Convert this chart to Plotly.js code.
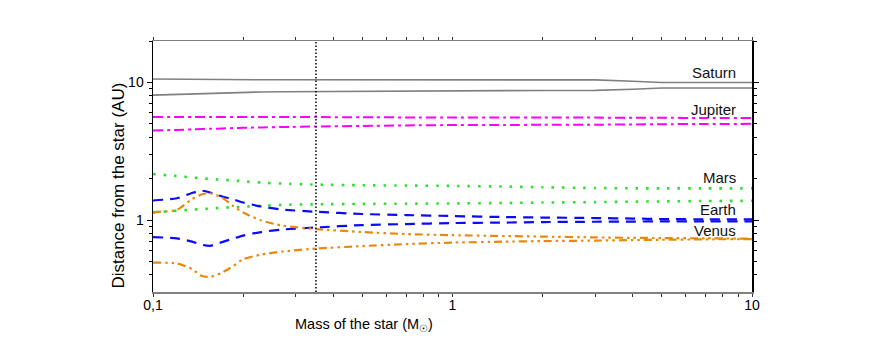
<!DOCTYPE html>
<html>
<head>
<meta charset="utf-8">
<script src="https://cdn.plot.ly/plotly-3.0.1.min.js"></script>
<style>html,body{margin:0;padding:0;background:#fff;}#chart{width:873px;height:350px;}</style>
</head>
<body>
<div id="chart"></div>
<script>
// Stellar mass grid (solar masses)
const masses = [0.1, 0.12, 0.135, 0.145, 0.155, 0.17, 0.185, 0.2, 0.23, 0.27, 0.35, 0.5, 0.7, 1, 1.5, 2, 3, 4, 5, 7, 10];

// Distances (AU): outer and inner boundaries for each planet
const saturnOuter  = [10.6, 10.55, 10.5, 10.48, 10.46, 10.45, 10.45, 10.45, 10.45, 10.45, 10.45, 10.45, 10.45, 10.45, 10.45, 10.45, 10.43, 10.2, 10.0, 10.0, 10.0];
const saturnInner  = [8.09, 8.2, 8.3, 8.34, 8.37, 8.42, 8.46, 8.49, 8.53, 8.56, 8.6, 8.64, 8.67, 8.7, 8.72, 8.73, 8.75, 8.92, 9.1, 9.1, 9.1];
const jupiterOuter = [5.60, 5.60, 5.60, 5.60, 5.60, 5.60, 5.60, 5.60, 5.60, 5.60, 5.60, 5.58, 5.57, 5.56, 5.56, 5.56, 5.55, 5.54, 5.53, 5.52, 5.51];
const jupiterInner = [4.47, 4.52, 4.56, 4.58, 4.60, 4.63, 4.66, 4.68, 4.71, 4.74, 4.78, 4.83, 4.87, 4.90, 4.91, 4.92, 4.93, 4.95, 4.97, 4.99, 5.00];
const marsOuter    = [2.16, 2.09, 2.04, 2.01, 1.99, 1.96, 1.94, 1.91, 1.87, 1.84, 1.81, 1.79, 1.78, 1.77, 1.75, 1.73, 1.71, 1.70, 1.70, 1.70, 1.70];
const marsInner    = [1.13, 1.17, 1.19, 1.20, 1.21, 1.23, 1.24, 1.25, 1.27, 1.29, 1.30, 1.31, 1.315, 1.32, 1.33, 1.34, 1.35, 1.36, 1.365, 1.375, 1.38];
const earthOuter   = [1.387, 1.439, 1.573, 1.635, 1.586, 1.483, 1.415, 1.341, 1.254, 1.192, 1.149, 1.106, 1.087, 1.069, 1.051, 1.043, 1.034, 1.025, 1.017, 1.012, 1.012];
const earthInner   = [0.752, 0.736, 0.697, 0.663, 0.650, 0.691, 0.733, 0.771, 0.818, 0.853, 0.882, 0.920, 0.935, 0.951, 0.959, 0.967, 0.972, 0.975, 0.978, 0.978, 0.978];
const venusOuter   = [1.144, 1.183, 1.422, 1.534, 1.565, 1.458, 1.265, 1.134, 0.992, 0.912, 0.860, 0.818, 0.791, 0.777, 0.765, 0.758, 0.748, 0.742, 0.740, 0.736, 0.733];
const venusInner   = [0.490, 0.484, 0.440, 0.394, 0.386, 0.415, 0.462, 0.520, 0.561, 0.590, 0.620, 0.647, 0.669, 0.686, 0.697, 0.703, 0.709, 0.715, 0.719, 0.724, 0.727];

// Vertical marker
const markerMass = [0.35, 0.35];
const yLimits = [0.3, 20];
const xLimits = [0.1, 10];

// Tick labels
const xTickVals = [0.1, 1, 10];
const xTickText = ['0,1', '1', '10'];
const yTickVals = [1, 10];
const yTickText = ['1', '10'];
const xMinor = [0.2,0.3,0.4,0.5,0.6,0.7,0.8,0.9,2,3,4,5,6,7,8,9];
const yMinor = [0.4,0.5,0.6,0.7,0.8,0.9,2,3,4,5,6,7,8,9,20];

const planetLabels = ['Saturn', 'Jupiter', 'Mars', 'Earth', 'Venus'];
const xTitle = 'Mass of the star (M<sub>☉</sub>)';
const yTitle = 'Distance from the star (AU)';

const styles = {
  Saturn:  {color: '#808080', width: 1.6, dash: 'solid', shape: 'linear'},
  Jupiter: {color: '#ff00ff', width: 2, dash: '10px,4px,3px,4px', shape: 'spline'},
  Mars:    {color: '#2ee02e', width: 2.6, dash: '2.5px,8px', shape: 'spline'},
  Earth:   {color: '#0a0aff', width: 2.2, dash: '10px,7px', shape: 'spline'},
  Venus:   {color: '#e8890c', width: 2.2, dash: '8px,4px,2.5px,4px,2.5px,4px', shape: 'spline'}
};

function tr(y, name) {
  const s = styles[name];
  return {x: masses, y: y, type: 'scatter', mode: 'lines', name: name, hoverinfo: 'skip',
    line: {color: s.color, width: s.width, dash: s.dash, shape: s.shape, smoothing: 0.6}};
}

const data = [
  tr(saturnOuter, 'Saturn'), tr(saturnInner, 'Saturn'),
  tr(jupiterOuter, 'Jupiter'), tr(jupiterInner, 'Jupiter'),
  tr(marsOuter, 'Mars'), tr(marsInner, 'Mars'),
  tr(earthOuter, 'Earth'), tr(earthInner, 'Earth'),
  tr(venusOuter, 'Venus'), tr(venusInner, 'Venus'),
  {x: markerMass, y: yLimits, type: 'scatter', mode: 'lines', hoverinfo: 'skip',
   line: {color: '#000', width: 1.5, dash: '1.5px,2px'}}
];

const fam = 'Liberation Sans, Arial, sans-serif';
const labelY = [0.874, 0.729, 0.458, 0.3275, 0.245];
const annotations = planetLabels.map((t, i) => ({
  text: t, xref: 'paper', yref: 'paper', x: 0.977, y: labelY[i],
  xanchor: 'right', yanchor: 'middle', showarrow: false,
  font: {family: fam, size: 15, color: '#111'}
}));
// axis titles (placed as in the reference, off-centre)
annotations.push({
  text: xTitle, xref: 'paper', yref: 'paper', x: 0.353, y: -0.13,
  xanchor: 'center', yanchor: 'middle', showarrow: false,
  font: {family: fam, size: 14.5, color: '#000'}
});
annotations.push({
  text: yTitle, xref: 'paper', yref: 'paper', x: -0.058, y: 0.425,
  xanchor: 'center', yanchor: 'middle', showarrow: false, textangle: -90,
  font: {family: fam, size: 17, color: '#000'}
});

const layout = {
  width: 873, height: 350,
  margin: {l: 153, r: 121, t: 41, b: 58},
  paper_bgcolor: '#fff', plot_bgcolor: '#fff',
  showlegend: false,
  font: {family: fam, color: '#000'},
  xaxis: {
    type: 'log', range: [Math.log10(xLimits[0]), Math.log10(xLimits[1])],
    tickmode: 'array', tickvals: xTickVals, ticktext: xTickText,
    ticks: 'outside', ticklen: 3, tickwidth: 1, tickcolor: '#333',
    ticklabelstandoff: -3,
    showline: true, linecolor: '#808080', linewidth: 1.5, mirror: 'ticks',
    showgrid: false, zeroline: false,
    minor: {tickmode: 'array', tickvals: xMinor, ticks: 'outside', ticklen: 3, tickcolor: '#333', showgrid: false},
    tickfont: {size: 14, family: fam, color: '#000'}
  },
  yaxis: {
    type: 'log', range: [Math.log10(yLimits[0]), Math.log10(yLimits[1])],
    tickmode: 'array', tickvals: yTickVals, ticktext: yTickText,
    ticks: 'outside', ticklen: 5, tickwidth: 1, tickcolor: '#000',
    showline: true, linecolor: '#000', linewidth: 1.5, mirror: 'ticks',
    showgrid: false, zeroline: false,
    minor: {tickmode: 'array', tickvals: yMinor, ticks: 'outside', ticklen: 3, tickcolor: '#000', showgrid: false},
    tickfont: {size: 14, family: fam, color: '#000'}
  },
  annotations: annotations
};

Plotly.newPlot('chart', data, layout, {displayModeBar: false, staticPlot: true});
</script>
</body>
</html>
